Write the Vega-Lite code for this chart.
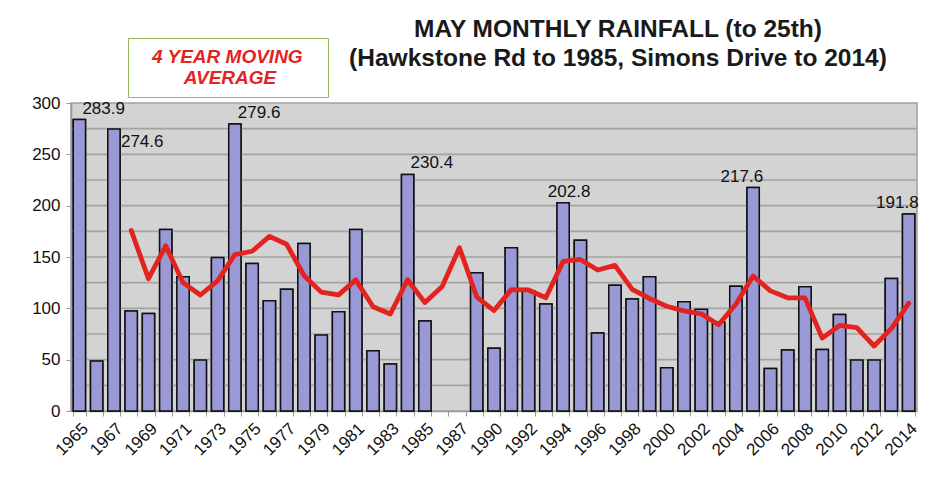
{
  "$schema": "https://vega.github.io/schema/vega-lite/v6.json",
  "width": 846,
  "height": 308,
  "autosize": {"type": "none"},
  "padding": {"left": 71, "top": 103, "right": 18, "bottom": 90},
  "background": "white",
  "title": {
    "text": ["MAY MONTHLY RAINFALL (to 25th)", "(Hawkstone Rd to 1985, Simons Drive to 2014)"],
    "anchor": "middle",
    "frame": "group",
    "dx": 124,
    "dy": 42,
    "offset": 8,
    "font": "Liberation Sans",
    "fontSize": 24.5,
    "fontWeight": "bold",
    "lineHeight": 29,
    "color": "#1a1a1a"
  },
  "data": {
    "values": [
      {"year": "1965", "rain": 283.9, "avg": null},
      {"year": "1966", "rain": 48.6, "avg": null},
      {"year": "1967", "rain": 274.6, "avg": null},
      {"year": "1968", "rain": 97.3, "avg": 175.9},
      {"year": "1969", "rain": 95.0, "avg": 128.9},
      {"year": "1970", "rain": 176.8, "avg": 160.9},
      {"year": "1971", "rain": 130.7, "avg": 125.0},
      {"year": "1972", "rain": 49.6, "avg": 113.0},
      {"year": "1973", "rain": 149.5, "avg": 126.7},
      {"year": "1974", "rain": 279.6, "avg": 152.4},
      {"year": "1975", "rain": 143.7, "avg": 155.6},
      {"year": "1976", "rain": 107.4, "avg": 170.1},
      {"year": "1977", "rain": 118.7, "avg": 162.4},
      {"year": "1978", "rain": 163.2, "avg": 132.0},
      {"year": "1979", "rain": 74.0, "avg": 115.8},
      {"year": "1980", "rain": 96.6, "avg": 113.1},
      {"year": "1981", "rain": 176.8, "avg": 127.7},
      {"year": "1982", "rain": 58.7, "avg": 101.5},
      {"year": "1983", "rain": 45.7, "avg": 94.5},
      {"year": "1984", "rain": 230.4, "avg": 127.9},
      {"year": "1985", "rain": 87.6, "avg": 105.6},
      {"year": "1986", "rain": null, "avg": 121.2},
      {"year": "1987", "rain": null, "avg": 159.0},
      {"year": "1989", "rain": 134.6, "avg": 111.1},
      {"year": "1990", "rain": 61.0, "avg": 97.8},
      {"year": "1991", "rain": 158.9, "avg": 118.2},
      {"year": "1992", "rain": 117.0, "avg": 117.9},
      {"year": "1993", "rain": 104.1, "avg": 110.3},
      {"year": "1994", "rain": 202.8, "avg": 145.7},
      {"year": "1995", "rain": 166.4, "avg": 147.6},
      {"year": "1996", "rain": 75.9, "avg": 137.3},
      {"year": "1997", "rain": 122.6, "avg": 141.9},
      {"year": "1998", "rain": 109.0, "avg": 118.5},
      {"year": "1999", "rain": 130.7, "avg": 109.6},
      {"year": "2000", "rain": 42.2, "avg": 102.0},
      {"year": "2001", "rain": 106.4, "avg": 97.5},
      {"year": "2002", "rain": 99.2, "avg": 94.6},
      {"year": "2003", "rain": 86.5, "avg": 84.0},
      {"year": "2004", "rain": 121.6, "avg": 104.0},
      {"year": "2005", "rain": 217.6, "avg": 131.4},
      {"year": "2006", "rain": 41.5, "avg": 117.0},
      {"year": "2007", "rain": 59.4, "avg": 110.3},
      {"year": "2008", "rain": 121.0, "avg": 110.2},
      {"year": "2009", "rain": 60.0, "avg": 71.0},
      {"year": "2010", "rain": 94.1, "avg": 83.3},
      {"year": "2011", "rain": 49.6, "avg": 81.2},
      {"year": "2012", "rain": 49.6, "avg": 63.3},
      {"year": "2013", "rain": 129.1, "avg": 80.2},
      {"year": "2014", "rain": 191.8, "avg": 104.9}
    ]
  },
  "encoding": {
    "x": {
      "field": "year",
      "type": "nominal",
      "sort": null,
      "scale": {
        "domain": ["1965","1966","1967","1968","1969","1970","1971","1972","1973","1974","1975","1976","1977","1978","1979","1980","1981","1982","1983","1984","1985","1986","1987","1989","1990","1991","1992","1993","1994","1995","1996","1997","1998","1999","2000","2001","2002","2003","2004","2005","2006","2007","2008","2009","2010","2011","2012","2013","2014"],
        "paddingInner": 0.29,
        "paddingOuter": 0.13
      },
      "axis": {
        "title": null,
        "labelAngle": -45,
        "labelFont": "Liberation Sans",
        "labelFontSize": 17,
        "labelColor": "#111111",
        "labelPadding": 4,
        "labelOverlap": false,
        "labelExpr": "indexof(['1965','1967','1969','1971','1973','1975','1977','1979','1981','1983','1985','1987','1990','1992','1994','1996','1998','2000','2002','2004','2006','2008','2010','2012','2014'], datum.value) >= 0 ? datum.label : ''",
        "tickBand": "extent",
        "tickColor": "#9a9a9a",
        "tickSize": 5,
        "domainColor": "#9a9a9a",
        "domainWidth": 1.5,
        "grid": false
      }
    }
  },
  "layer": [
    {
      "mark": {"type": "bar", "fill": "#9999d6", "stroke": "#111111", "strokeWidth": 1.5},
      "encoding": {
        "y": {
          "field": "rain",
          "type": "quantitative",
          "scale": {"domain": [0, 300], "nice": false},
          "axis": {
            "title": null,
            "values": [0, 50, 100, 150, 200, 250, 300],
            "labelFont": "Liberation Sans",
            "labelFontSize": 17,
            "labelColor": "#111111",
            "labelPadding": 6,
            "tickColor": "#9a9a9a",
            "tickSize": 5,
            "domainColor": "#9a9a9a",
            "domainWidth": 1.5,
            "grid": false
          }
        }
      }
    },
    {
      "mark": {"type": "rule", "color": "#a3a3a3", "strokeWidth": 1.6},
      "data": {"values": [{"g": 25}, {"g": 50}, {"g": 75}, {"g": 100}, {"g": 125}, {"g": 150}, {"g": 175}, {"g": 200}, {"g": 225}, {"g": 250}, {"g": 275}]},
      "encoding": {
        "x": null,
        "y": {"field": "g", "type": "quantitative"}
      }
    },
    {
      "mark": {"type": "bar", "fill": "#9999d6", "stroke": "#111111", "strokeWidth": 1.5},
      "encoding": {
        "y": {"field": "rain", "type": "quantitative"}
      }
    },
    {
      "mark": {"type": "line", "strokeWidth": 4.8, "strokeJoin": "round", "strokeCap": "round"},
      "encoding": {
        "y": {"field": "avg", "type": "quantitative"},
        "color": {
          "datum": "4 YEAR MOVING AVERAGE",
          "type": "nominal",
          "scale": {"range": ["#e3231f"]},
          "legend": {
            "title": null,
            "orient": "none",
            "legendX": 57,
            "legendY": -65,
            "strokeColor": "#93b65e",
            "fillColor": "white",
            "padding": 9,
            "symbolOpacity": 0,
            "symbolSize": 0,
            "symbolStrokeWidth": 0,
            "labelOffset": -4,
            "labelExpr": "['4 YEAR MOVING\u00a0\u00a0\u00a0\u200b', '\u200b\u00a0\u00a0\u00a0\u00a0\u00a0\u00a0AVERAGE']",
            "labelAlign": "left",
            "labelFont": "Liberation Sans",
            "labelFontSize": 19,
            "labelFontWeight": "bold",
            "labelFontStyle": "italic",
            "labelColor": "#e3231f",
            "labelLimit": 300,
            "labelLineHeight": 22
          }
        }
      }
    },
    {
      "transform": [{"filter": "indexof(['1965','1974','1984'], datum.year) >= 0"}],
      "mark": {"type": "text", "align": "left", "baseline": "bottom", "dx": 3, "dy": -2, "font": "Liberation Sans", "fontSize": 17, "color": "#111111"},
      "encoding": {"y": {"field": "rain", "type": "quantitative"}, "text": {"field": "rain", "type": "quantitative", "format": ".1f"}}
    },
    {
      "transform": [{"filter": "datum.year == '1994'"}],
      "mark": {"type": "text", "align": "center", "baseline": "bottom", "dx": 6, "dy": -2, "font": "Liberation Sans", "fontSize": 17, "color": "#111111"},
      "encoding": {"y": {"field": "rain", "type": "quantitative"}, "text": {"field": "rain", "type": "quantitative", "format": ".1f"}}
    },
    {
      "transform": [{"filter": "datum.year == '2005' || datum.year == '2014'"}],
      "mark": {"type": "text", "align": "right", "baseline": "bottom", "dx": 10, "dy": -2, "font": "Liberation Sans", "fontSize": 17, "color": "#111111"},
      "encoding": {"y": {"field": "rain", "type": "quantitative"}, "text": {"field": "rain", "type": "quantitative", "format": ".1f"}}
    },
    {
      "transform": [{"filter": "datum.year == '1967'"}],
      "mark": {"type": "text", "align": "left", "baseline": "top", "dx": 7, "dy": 5, "font": "Liberation Sans", "fontSize": 17, "color": "#111111"},
      "encoding": {"y": {"field": "rain", "type": "quantitative"}, "text": {"field": "rain", "type": "quantitative", "format": ".1f"}}
    }
  ],
  "config": {
    "view": {"fill": "#d3d3d3", "stroke": "#a0a0a0", "strokeWidth": 1.5},
    "font": "Liberation Sans"
  }
}
